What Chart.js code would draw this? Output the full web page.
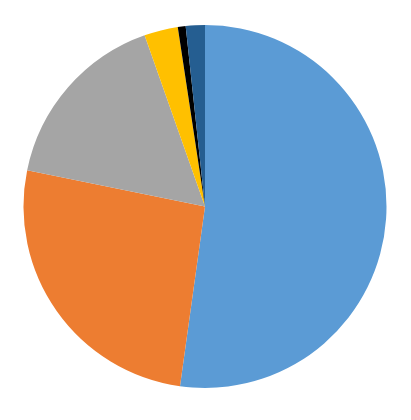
<!DOCTYPE html>
<html>
<head>
<meta charset="utf-8">
<script src="https://cdn.jsdelivr.net/npm/chart.js@4"></script>
<style>
html,body{margin:0;padding:0;background:#fff;}
#wrap{width:411px;height:420px;}
</style>
</head>
<body>
<div id="wrap"><canvas id="c" width="411" height="420"></canvas></div>
<script>
const categories = ['A', 'B', 'C', 'D', 'E', 'F'];
const values = [52.2, 26.0, 16.4, 3.0, 0.7, 1.7];
const colors = ['#5B9BD5', '#ED7D31', '#A5A5A5', '#FFC000', '#000000', '#255E91'];

new Chart(document.getElementById('c'), {
  type: 'pie',
  data: {
    labels: categories,
    datasets: [{
      data: values,
      backgroundColor: colors,
      borderWidth: 0
    }]
  },
  options: {
    responsive: false,
    animation: false,
    layout: { padding: { left: 23, right: 24, top: 25, bottom: 32 } },
    plugins: {
      legend: { display: false },
      tooltip: { enabled: false }
    }
  }
});
</script>
</body>
</html>
